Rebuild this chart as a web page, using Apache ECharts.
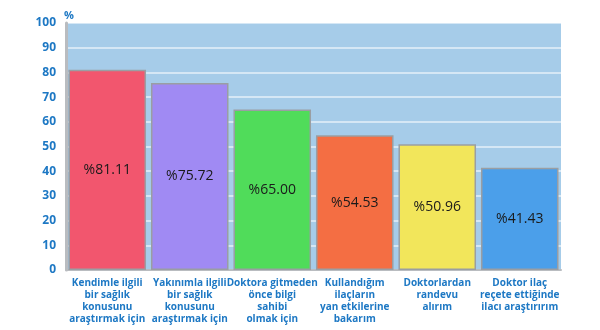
<!DOCTYPE html>
<html>
<head>
<meta charset="utf-8">
<script src="https://cdn.jsdelivr.net/npm/echarts@6/dist/echarts.min.js"></script>
<style>
  html, body { margin: 0; padding: 0; background: #ffffff; }
  #chart { width: 600px; height: 330px; }
</style>
</head>
<body>
<div id="chart"></div>
<script>
// Internet health-information usage reasons (%)
const categories = [
  'Kendimle ilgili\nbir sağlık\nkonusunu\naraştırmak için',
  'Yakınımla ilgili\nbir sağlık\nkonusunu\naraştırmak için',
  'Doktora gitmeden\nönce bilgi\nsahibi\nolmak için',
  'Kullandığım\nilaçların\nyan etkilerine\nbakarım',
  'Doktorlardan\nrandevu\nalırım',
  'Doktor ilaç\nreçete ettiğinde\nilacı araştırırım'
];
const values = [81.11, 75.72, 65.00, 54.53, 50.96, 41.43];
const barColors = ['#f2566e', '#a08af3', '#50dc5a', '#f46e43', '#f2e65b', '#4b9fea'];
const yTicks = { min: 0, max: 100, interval: 10 };

const chart = echarts.init(document.getElementById('chart'), null, { renderer: 'canvas' });

chart.setOption({
  animation: false,
  textStyle: { fontFamily: 'Open Sans' },
  grid: {
    left: 66, right: 39, top: 23, bottom: 60,
    show: true, backgroundColor: '#a6cce9', borderWidth: 0
  },
  xAxis: {
    type: 'category',
    data: categories,
    axisLine: { show: true, lineStyle: { color: '#b9bcc0', width: 2 } },
    axisTick: { show: false },
    axisLabel: {
      interval: 0,
      color: '#1d78c4',
      fontWeight: 'bold',
      fontSize: 10,
      lineHeight: 12,
      margin: 7,
      fontFamily: 'Open Sans'
    }
  },
  yAxis: {
    type: 'value',
    min: yTicks.min, max: yTicks.max, interval: yTicks.interval,
    name: '%',
    nameLocation: 'end',
    nameGap: 2,
    nameTextStyle: { color: '#1d78c4', fontWeight: 'bold', fontSize: 11, align: 'left', padding: [0, 0, 0, -2] },
    axisLine: { show: true, lineStyle: { color: '#b9bcc0', width: 3 } },
    axisTick: { show: false },
    axisLabel: { color: '#1d78c4', fontSize: 12, fontWeight: 'bold', margin: 10 },
    splitLine: { show: true, lineStyle: { color: 'rgba(255,255,255,0.7)', width: 1.5 } }
  },
  series: [{
    type: 'bar',
    data: values.map((v, i) => ({ value: v, itemStyle: { color: barColors[i] } })),
    barCategoryGap: '6%',
    itemStyle: { borderColor: '#9a9ea3', borderWidth: 1.5 },
    label: {
      show: true,
      position: 'inside',
      color: '#1a1a1a',
      fontSize: 14,
      fontFamily: 'Open Sans',
      formatter: p => '%' + p.value.toFixed(2)
    }
  }]
});
</script>
</body>
</html>
